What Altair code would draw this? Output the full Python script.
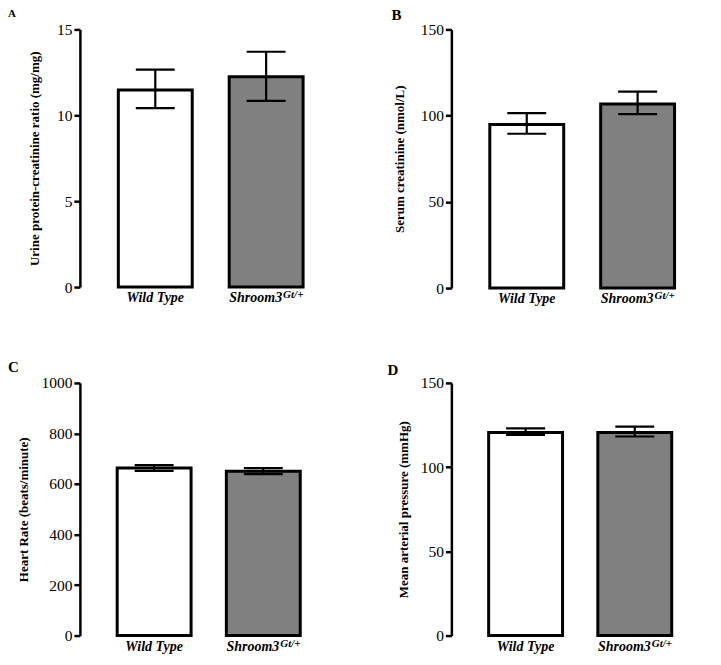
import altair as alt
import pandas as pd

FONT = "Liberation Serif"

groups = ["Wild Type", "Shroom3"]
superscripts = ["", "Gt/+"]
bar_fills = ["#ffffff", "#808080"]

# Panel A: urine protein-creatinine ratio
a_mean = [11.48, 12.24]
a_lo = [10.42, 10.84]
a_hi = [12.66, 13.70]
# Panel B: serum creatinine
b_mean = [94.9, 106.7]
b_lo = [89.5, 100.9]
b_hi = [101.5, 113.9]
# Panel C: heart rate
c_mean = [663, 650]
c_lo = [652, 639]
c_hi = [675, 663]
# Panel D: mean arterial pressure
d_mean = [120.5, 120.5]
d_lo = [119.2, 118.2]
d_hi = [123.0, 124.0]

titles = ["Urine protein-creatinine ratio (mg/mg)", "Serum creatinine (nmol/L)",
          "Heart Rate (beats/minute)", "Mean arterial pressure (mmHg)"]
letters = ["A", "B", "C", "D"]
y_ticks_a = [0, 5, 10, 15]
y_ticks_b = [0, 50, 100, 150]
y_ticks_c = [0, 200, 400, 600, 800, 1000]
y_ticks_d = [0, 50, 100, 150]


def panel(letter, mean, lo, hi, ytitle, ticks, w, h, letter_size, letter_x, letter_y, title_pad):
    df = pd.DataFrame({"group": groups, "mean": mean, "lo": lo, "hi": hi, "sup": superscripts})
    xscale = alt.Scale(paddingInner=0.32, paddingOuter=0.34)
    xaxis = alt.Axis(
        title=None, ticks=False, tickSize=0, labels=False,
        domainColor="black", domainWidth=2.5, grid=False,
    )
    x = alt.X("group:N", sort=groups, scale=xscale, axis=xaxis)
    x_noaxis = alt.X("group:N", sort=groups, scale=xscale, axis=None)
    yscale = alt.Scale(domain=[ticks[0], ticks[-1]], nice=False)
    yaxis = alt.Axis(
        title=ytitle, values=ticks, format="d", grid=False, domainColor="black", domainWidth=2.5,
        tickColor="black", tickWidth=2.5, tickSize=6, labelFont=FONT, labelFontSize=15.5,
        labelColor="black", labelPadding=2, titleFont=FONT, titleFontSize=13,
        titleFontWeight="bold", titleColor="black", titlePadding=title_pad,
    )
    base = alt.Chart(df)
    bars = base.mark_bar(size=74, stroke="black", strokeWidth=3).encode(
        x=x,
        y=alt.Y("mean:Q", scale=yscale, axis=yaxis),
        fill=alt.Fill("group:N", scale=alt.Scale(domain=groups, range=bar_fills), legend=None),
    )
    err = base.mark_rule(color="black", strokeWidth=2.2).encode(
        x=x_noaxis, y=alt.Y("lo:Q", scale=yscale), y2="hi:Q"
    )
    cap_lo = base.mark_tick(color="black", size=39, thickness=2.2, opacity=1).encode(
        x=x_noaxis, y=alt.Y("lo:Q", scale=yscale)
    )
    cap_hi = base.mark_tick(color="black", size=39, thickness=2.2, opacity=1).encode(
        x=x_noaxis, y=alt.Y("hi:Q", scale=yscale)
    )
    label_style = dict(baseline="top", font=FONT, fontSize=14, fontWeight="bold",
                       fontStyle="italic", color="black")
    lab_wt = base.transform_filter("datum.sup == ''").mark_text(align="center", **label_style).encode(
        x=x_noaxis, y=alt.value(h + 4), text="group:N")
    lab_sh = base.transform_filter("datum.sup != ''").mark_text(align="right", dx=16, **label_style).encode(
        x=x_noaxis, y=alt.value(h + 4), text="group:N")
    sup = base.transform_filter("datum.sup != ''").mark_text(
        align="left", baseline="top", font=FONT, fontSize=11, fontWeight="bold",
        fontStyle="italic", color="black", dx=17,
    ).encode(x=x_noaxis, y=alt.value(h + 2), text="sup:N")
    tag = alt.Chart(pd.DataFrame({"letter": [letter]})).mark_text(
        align="left", baseline="alphabetic", font=FONT, fontSize=letter_size,
        fontWeight="bold", color="black",
    ).encode(x=alt.value(letter_x), y=alt.value(letter_y), text="letter:N")
    return alt.layer(bars, err, cap_lo, cap_hi, lab_wt, lab_sh, sup, tag).properties(width=w, height=h)


pa = panel(letters[0], a_mean, a_lo, a_hi, titles[0], y_ticks_a, 262, 258, 11, -72, -12, 15)
pb = panel(letters[1], b_mean, b_lo, b_hi, titles[1], y_ticks_b, 262, 259, 15, -60, -9, 14)
pc = panel(letters[2], c_mean, c_lo, c_hi, titles[2], y_ticks_c, 258, 253, 15, -72, -11, 10)
pd_ = panel(letters[3], d_mean, d_lo, d_hi, titles[3], y_ticks_d, 258, 253, 15, -64, -8, 10)

chart = alt.concat(pa, pb, pc, pd_, columns=2, spacing={"row": 54, "column": 46}).properties(
    padding=0, background="white"
).configure_view(stroke=None)

chart.save("out.html", embed_options={"renderer": "svg", "actions": False})
